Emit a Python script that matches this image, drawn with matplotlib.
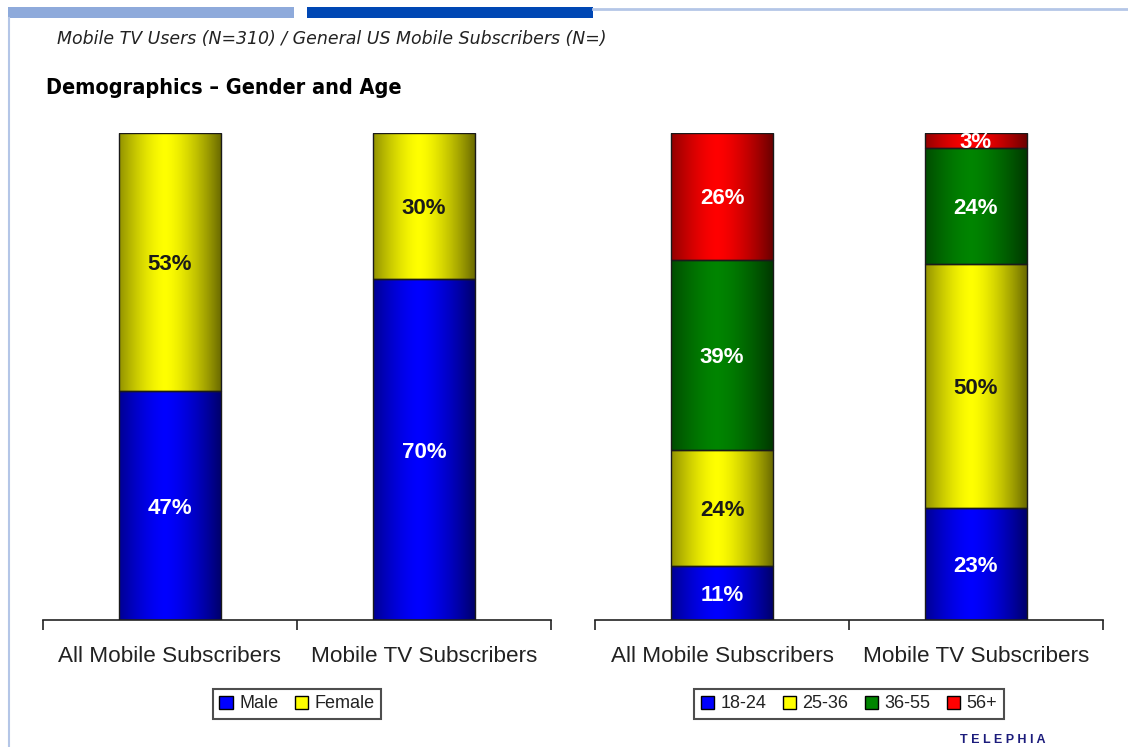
import numpy as np
import matplotlib
matplotlib.use("Agg")
import matplotlib.pyplot as plt
from matplotlib.patches import Patch, Rectangle
from matplotlib.lines import Line2D

# ---------------- data ----------------
categories = ["All Mobile Subscribers", "Mobile TV Subscribers"]
gender_labels = ["Male", "Female"]
male = [47, 70]
female = [53, 30]
age_labels = ["18-24", "25-36", "36-55", "56+"]
age_18_24 = [11, 23]
age_25_36 = [24, 50]
age_36_55 = [39, 24]
age_56_plus = [26, 3]

subtitle = "Mobile TV Users (N=310) / General US Mobile Subscribers (N=)"
title = "Demographics \u2013 Gender and Age"

# ---------------- style ----------------
plt.rcParams['font.family'] = ['Liberation Sans', 'DejaVu Sans']

BLUE = (0.0, 0.0, 1.0)
YELLOW = (1.0, 1.0, 0.0)
GREEN = (0.0, 0.52, 0.0)
RED = (1.0, 0.0, 0.0)

W, H = 1128, 747
fig = plt.figure(figsize=(W / 100, H / 100), dpi=100)


def px_rect(x0, y0, x1, y1):
    """convert pixel box (top-left origin) to figure fraction rect"""
    return (x0 / W, 1 - y1 / H, (x1 - x0) / W, (y1 - y0) / H)


t = np.linspace(0, 1, 256)
prof = 1 - 0.58 * (np.abs(t - 0.45) / 0.55) ** 1.5
prof = np.clip(prof, 0, 1)


def draw_stacked(ax, series, colors, text_colors):
    x = np.arange(len(categories))
    bottom = np.zeros(len(categories))
    for vals, col, tc in zip(series, colors, text_colors):
        vals = np.asarray(vals, dtype=float)
        bars = ax.bar(x, vals, width=0.4, bottom=bottom, color=col,
                      edgecolor='#1a1a1a', linewidth=1.0, zorder=3)
        for b, v in zip(bars, vals):
            x0, y0 = b.get_x(), b.get_y()
            w, h = b.get_width(), b.get_height()
            img = np.array(col)[None, None, :] * prof[None, :, None]
            im = ax.imshow(img, extent=[x0, x0 + w, y0, y0 + h], aspect='auto',
                           interpolation='bilinear', zorder=2)
            im.set_clip_path(b)
            b.set_facecolor('none')
            ax.text(x0 + w / 2, y0 + h / 2, f"{int(v)}%", ha='center',
                    va='center_baseline', color=tc, fontsize=16,
                    fontweight='bold', zorder=5)
        bottom += vals
    ax.set_xlim(-0.5, len(categories) - 0.5)
    ax.set_ylim(0, 100)
    for s in ['left', 'right', 'top']:
        ax.spines[s].set_visible(False)
    ax.spines['bottom'].set_color('#222222')
    ax.spines['bottom'].set_linewidth(1.2)
    ax.set_yticks([])
    ax.set_xticks(x)
    ax.set_xticklabels(categories, fontsize=16.2, color='#222222')
    ax.tick_params(axis='x', which='major', length=0, pad=19)
    ax.set_xticks(np.arange(-0.5, len(categories), 1.0), minor=True)
    ax.tick_params(axis='x', which='minor', length=7, width=1.2, color='#222222',
                   direction='out')
    ax.patch.set_alpha(0)


ax1 = fig.add_axes(px_rect(43, 133, 551, 620))
draw_stacked(ax1, [male, female], [BLUE, YELLOW], ['white', '#1a1a1a'])

ax2 = fig.add_axes(px_rect(595, 133, 1103, 620))
draw_stacked(ax2, [age_18_24, age_25_36, age_36_55, age_56_plus],
             [BLUE, YELLOW, GREEN, RED], ['white', '#1a1a1a', 'white', 'white'])


# legends
def make_legend(labels, colors, cx):
    handles = [Patch(facecolor=c, edgecolor='black', linewidth=1.0) for c in colors]
    leg = fig.legend(handles, labels, loc='center', bbox_to_anchor=(cx / W, 1 - 704 / H),
                     ncol=len(labels), fontsize=13, frameon=True, fancybox=False,
                     handlelength=0.75, handleheight=0.75, handletextpad=0.35,
                     columnspacing=0.9, borderpad=0.35, borderaxespad=0)
    fr = leg.get_frame()
    fr.set_edgecolor('#222222')
    fr.set_linewidth(1.5)
    for txt in leg.get_texts():
        txt.set_color('#222222')
    return leg


make_legend(gender_labels, [BLUE, YELLOW], 297)
make_legend(age_labels, [BLUE, YELLOW, GREEN, RED], 849)

# header decorations
fig.add_artist(Rectangle(px_rect(8, 7, 294, 18)[:2], *px_rect(8, 7, 294, 18)[2:],
                         transform=fig.transFigure, color='#8eaadb', lw=0))
fig.add_artist(Rectangle(px_rect(307, 7, 593, 18)[:2], *px_rect(307, 7, 593, 18)[2:],
                         transform=fig.transFigure, color='#0047b4', lw=0))
fig.add_artist(Line2D([593 / W, 1], [1 - 8.5 / H, 1 - 8.5 / H], transform=fig.transFigure,
                      color='#b4c6e7', lw=2))
fig.add_artist(Line2D([9 / W, 9 / W], [0, 1 - 18 / H], transform=fig.transFigure,
                      color='#b4c6e7', lw=1.5))

fig.text(57 / W, 1 - 39 / H, subtitle, ha='left', va='center', fontsize=12.5,
         style='italic', color='#222222', family=['DejaVu Sans'])
fig.text(46 / W, 1 - 88 / H, title, ha='left', va='center', fontsize=15.5,
         fontweight='bold', fontstretch='condensed', color='black',
         family=['DejaVu Sans'])

fig.text(1003 / W, 1 - 746 / H, "T E L E P H I A", ha='center', va='bottom',
         fontsize=9, fontweight='bold', color='#1c1c7c')

fig.savefig("out.png", dpi=100)
